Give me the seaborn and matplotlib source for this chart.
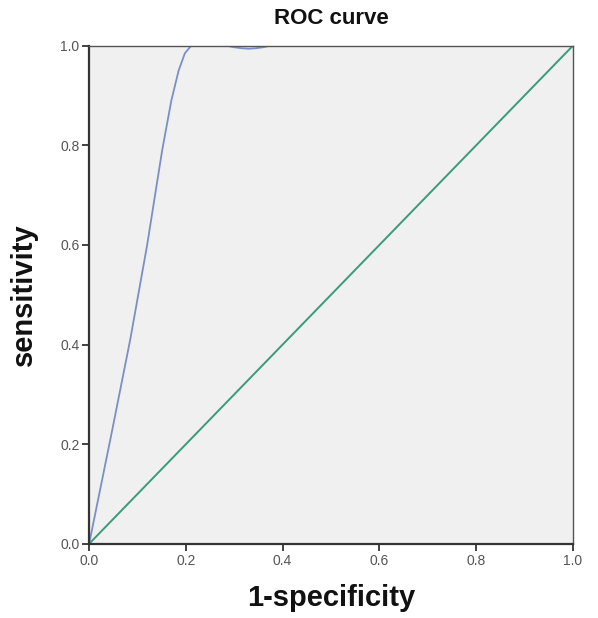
import numpy as np
import pandas as pd
import seaborn as sns
import matplotlib.pyplot as plt

# ROC curve values
fpr = [0.0, 0.045, 0.085, 0.12, 0.151, 0.17, 0.185, 0.198, 0.211, 0.25, 0.284, 0.30, 0.315, 0.33, 0.345, 0.36, 0.374, 0.5, 1.0]
tpr = [0.0, 0.215, 0.41, 0.60, 0.79, 0.89, 0.95, 0.985, 1.0, 1.0, 1.0, 0.997, 0.995, 0.994, 0.995, 0.997, 1.0, 1.0, 1.0]
ref_x = [0.0, 1.0]
ref_y = [0.0, 1.0]
ticks = [0.0, 0.2, 0.4, 0.6, 0.8, 1.0]

roc = pd.DataFrame({'fpr': fpr, 'tpr': tpr})
diag = pd.DataFrame({'x': ref_x, 'y': ref_y})

sns.set_theme(style='white')
plt.rcParams['font.family'] = ['Liberation Sans', 'DejaVu Sans']

fig = plt.figure(figsize=(5.98, 6.18), dpi=100)
ax = fig.add_axes([0.149, 0.120, 0.809, 0.806])
ax.set_facecolor('#eff0ef')

sns.lineplot(data=diag, x='x', y='y', color='#3a9a7c', linewidth=1.4, ax=ax)
sns.lineplot(data=roc, x='fpr', y='tpr', sort=False, color='#7b8fc6', linewidth=1.3, ax=ax)

ax.set_xlim(0, 1)
ax.set_ylim(0, 1)
ax.set_xticks(ticks)
ax.set_yticks(ticks)
ax.set_xticklabels([f'{t:.1f}' for t in ticks])
ax.set_yticklabels([f'{t:.1f}' for t in ticks])
ax.tick_params(axis='both', direction='out', length=5, width=1.3, color='#333333',
               labelsize=10, labelcolor='#555555', pad=2)
ax.tick_params(axis='both', bottom=True, left=True)

for side in ['left', 'bottom']:
    ax.spines[side].set_color('#333333')
    ax.spines[side].set_linewidth(1.6)
for side in ['top', 'right']:
    ax.spines[side].set_color('#555555')
    ax.spines[side].set_linewidth(1.0)

ax.set_title('ROC curve', fontsize=16, fontweight='bold', pad=16, color='#111111')
ax.set_xlabel('1-specificity', fontsize=21, fontweight='bold', labelpad=12, color='#111111')
ax.set_ylabel('sensitivity', fontsize=21, fontweight='bold', labelpad=16, color='#111111')

fig.savefig('out.png', dpi=100)
